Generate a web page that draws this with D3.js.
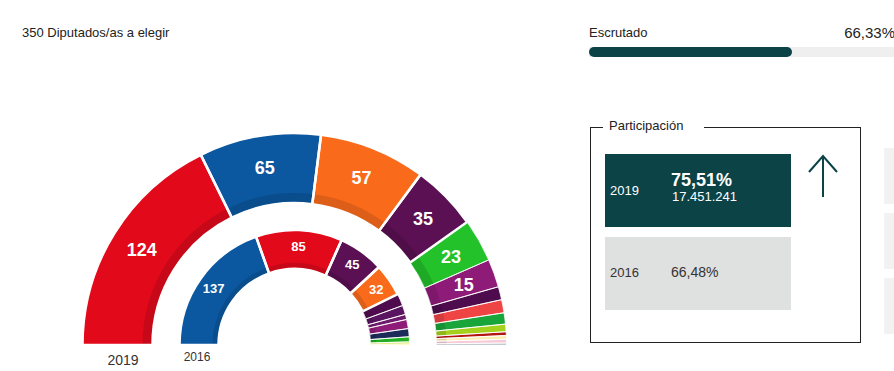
<!DOCTYPE html>
<html>
<head>
<meta charset="utf-8">
<script src="https://cdn.jsdelivr.net/npm/d3@7"></script>
<style>
  body { margin: 0; background: #fff; font-family: "Liberation Sans", Arial, sans-serif; }
</style>
</head>
<body>
<div id="chart"></div>
<script>
// 2019 (outer ring)
const parties2019 = ["PSOE", "PP", "Cs", "UP", "Vox", "ERC", "ECP", "JxCat", "PNV", "EH Bildu", "CC", "NA+", "Compromís", "PRC"];
const seats2019 = [124, 65, 57, 35, 23, 15, 7, 7, 6, 4, 2, 2, 2, 1];
const colors2019 = ["#e2091b", "#0b57a0", "#f96a1b", "#5a1052", "#23c12a", "#8e1b78", "#4e0c4e", "#ef4444", "#19a53a", "#a4d11c", "#b3150f", "#fbeeb0", "#f7c9d6", "#9aa9b2"];

// 2016 (inner ring)
const parties2016 = ["PP", "PSOE", "UP", "Cs", "ECP", "Compromís", "En Marea", "ERC", "CDC", "PNV", "EH Bildu", "CC"];
const seats2016 = [137, 85, 45, 32, 12, 9, 5, 9, 8, 5, 2, 1];
const colors2016 = ["#0b57a0", "#e2091b", "#5a1052", "#f96a1b", "#4e0c4e", "#5a1560", "#6d1a6b", "#8e1b78", "#1c2b5a", "#22b022", "#c5e01c", "#f2e600"];

const escrutado = 66.33;
const part2019 = "75,51%", votos2019 = "17.451.241", part2016 = "66,48%";

const W = 894, H = 371;
const svg = d3.select("#chart").append("svg")
  .attr("width", W).attr("height", H);

const cx = 294.5, cy = 345;

const pie = d3.pie().sort(null).startAngle(-Math.PI / 2).endAngle(Math.PI / 2);

function ring(seats, colors, r0, rBand, r1, rLabel, fontSize, minLabel) {
  const g = svg.append("g").attr("transform", `translate(${cx},${cy})`);
  const arcs = pie(seats);
  const main = d3.arc().innerRadius(r0).outerRadius(r1);
  const band = d3.arc().innerRadius(r0).outerRadius(rBand);
  const lab = d3.arc().innerRadius(rLabel).outerRadius(rLabel);

  g.selectAll(".slice").data(arcs).enter().append("path")
    .attr("class", "slice")
    .attr("d", main)
    .attr("fill", (d, i) => colors[i]);

  g.selectAll(".band").data(arcs).enter().append("path")
    .attr("class", "band")
    .attr("d", band)
    .attr("fill", (d, i) => d3.color(colors[i]).darker(0.35));

  g.selectAll(".sep").data(arcs).enter().append("path")
    .attr("class", "sep")
    .attr("d", main)
    .attr("fill", "none")
    .attr("stroke", "#fff")
    .attr("stroke-width", (d) => d.data >= 30 ? 2.5 : 0.8);

  g.selectAll(".lbl").data(arcs.filter(d => d.data >= minLabel)).enter().append("text")
    .attr("transform", d => `translate(${lab.centroid(d)})`)
    .attr("text-anchor", "middle")
    .attr("dy", "0.36em")
    .attr("fill", "#fff")
    .style("font-size", fontSize + "px")
    .style("font-weight", "bold")
    .text(d => d.data);
}

ring(seats2019, colors2019, 142, 152, 212, 180, 18, 15);
ring(seats2016, colors2016, 76, 82, 115, 99, 13, 30);

svg.append("text").attr("x", 123).attr("y", 365).attr("text-anchor", "middle")
  .style("font-size", "14px").attr("fill", "#333").text("2019");
svg.append("text").attr("x", 197).attr("y", 361).attr("text-anchor", "middle")
  .style("font-size", "12px").attr("fill", "#333").text("2016");

// header
svg.append("text").attr("x", 22).attr("y", 37)
  .style("font-size", "13px").attr("fill", "#222").text("350 Diputados/as a elegir");
svg.append("text").attr("x", 589).attr("y", 37)
  .style("font-size", "13px").attr("fill", "#222").text("Escrutado");
svg.append("text").attr("x", 895).attr("y", 38).attr("text-anchor", "end")
  .style("font-size", "15px").attr("fill", "#222").text(escrutado.toFixed(2).replace(".", ",") + "%");

const xBar = d3.scaleLinear().domain([0, 100]).range([589, 895]);
svg.append("rect").attr("x", xBar(0)).attr("y", 47).attr("width", xBar(100) - xBar(0)).attr("height", 10)
  .attr("fill", "#efefef");
svg.append("rect").attr("x", xBar(0)).attr("y", 47).attr("width", xBar(escrutado) - xBar(0)).attr("height", 10)
  .attr("rx", 5).attr("fill", "#0b4347");

// participation box
const box = svg.append("g");
box.append("rect").attr("x", 590.5).attr("y", 127.5).attr("width", 270).attr("height", 215)
  .attr("fill", "none").attr("stroke", "#222");
box.append("rect").attr("x", 603).attr("y", 118).attr("width", 101).attr("height", 16).attr("fill", "#fff");
box.append("text").attr("x", 609).attr("y", 130).style("font-size", "13px").attr("fill", "#222").text("Participación");

box.append("rect").attr("x", 605).attr("y", 154).attr("width", 186).attr("height", 73).attr("fill", "#0b4347");
box.append("text").attr("x", 610).attr("y", 195).style("font-size", "13px").attr("fill", "#fff").text("2019");
box.append("text").attr("x", 671).attr("y", 186).style("font-size", "18px").style("font-weight", "bold").attr("fill", "#fff").text(part2019);
box.append("text").attr("x", 672).attr("y", 201).style("font-size", "13px").attr("fill", "#fff").text(votos2019);

box.append("rect").attr("x", 605).attr("y", 237).attr("width", 186).attr("height", 73).attr("fill", "#dfe0e0");
box.append("text").attr("x", 610).attr("y", 277).style("font-size", "13px").attr("fill", "#333").text("2016");
box.append("text").attr("x", 671).attr("y", 277).style("font-size", "14px").attr("fill", "#333").text(part2016);

box.append("path").attr("d", "M823,197 V156 M809,172 L823,156 L837,172")
  .attr("fill", "none").attr("stroke", "#0b4347").attr("stroke-width", 2);

// right side placeholder panels
[148, 213, 278].forEach(y => {
  svg.append("rect").attr("x", 884).attr("y", y).attr("width", 20).attr("height", 56).attr("fill", "#f2f2f2");
});
</script>
</body>
</html>
